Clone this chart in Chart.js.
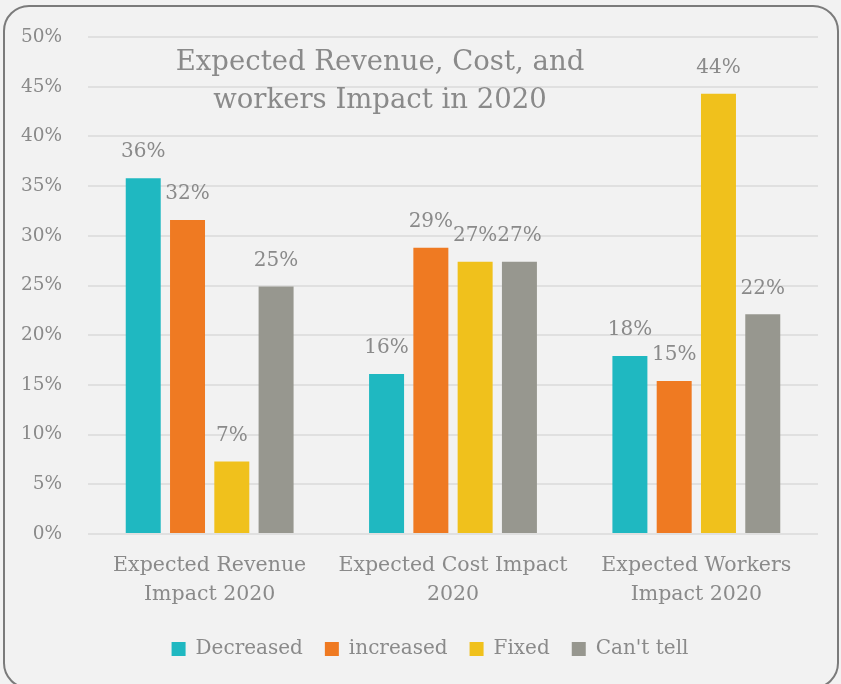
<!DOCTYPE html>
<html>
<head>
<meta charset="utf-8">
<script src="https://cdn.jsdelivr.net/npm/chart.js@4"></script>
<style>
  html, body { margin: 0; padding: 0; background: #f2f2f2; }
  #wrap { position: relative; width: 841px; height: 684px; overflow: hidden; }
  #card {
    position: absolute; left: 3px; top: 5px; width: 832px; height: 680px;
    border: 2px solid #7b7b7b; border-radius: 26px; background: #f2f2f2;
  }
  canvas { position: absolute; left: 0; top: 0; }
</style>
</head>
<body>
<div id="wrap">
  <div id="card"></div>
  <canvas id="myChart" width="841" height="684"></canvas>
</div>
<script>
const categories = [
    ["Expected Revenue", "Impact 2020"],
    ["Expected Cost Impact", "2020"],
    ["Expected Workers", "Impact 2020"],
];
const seriesNames = ["Decreased", "increased", "Fixed", "Can't tell"];
const decreased = [35.8, 16.1, 17.9];
const increased = [31.6, 28.8, 15.4];
const fixed = [7.3, 27.4, 44.3];
const cantTell = [24.9, 27.4, 22.1];
const titleLines = ["Expected Revenue, Cost, and", "workers Impact in 2020"];

const colors = ["#1fb8c1", "#ef7a22", "#f0c11c", "#97978f"];
const textColor = "#8a8a8a";
const fontFamily = "'DejaVu Serif', serif";

// value labels above each bar
const valueLabels = {
    id: "valueLabels",
    afterDatasetsDraw(chart) {
        const ctx = chart.ctx;
        ctx.save();
        ctx.font = "20px " + fontFamily;
        ctx.fillStyle = textColor;
        ctx.textAlign = "center";
        ctx.textBaseline = "middle";
        chart.data.datasets.forEach((ds, i) => {
            chart.getDatasetMeta(i).data.forEach((bar, j) => {
                ctx.fillText(Math.round(ds.data[j]) + "%", bar.x, bar.y - 26);
            });
        });
        ctx.restore();
    },
};

// title sits inside the plot area
const innerTitle = {
    id: "innerTitle",
    afterDraw(chart) {
        const ctx = chart.ctx;
        ctx.save();
        ctx.font = "27.5px " + fontFamily;
        ctx.fillStyle = textColor;
        ctx.textAlign = "center";
        ctx.textBaseline = "middle";
        ctx.fillText(titleLines[0], 380, 63);
        ctx.fillText(titleLines[1], 380, 101);
        ctx.restore();
    },
};

// nudge the legend a little to the right, like the original
const legendShift = {
    id: "legendShift",
    afterLayout(chart) {
        chart.legend.left += 16;
        chart.legend.right += 16;
    },
};

const ctx = document.getElementById("myChart").getContext("2d");
const myChart = new Chart(ctx, {
    type: "bar",
    data: {
        labels: categories,
        datasets: [decreased, increased, fixed, cantTell].map((d, i) => ({
            label: seriesNames[i],
            data: d,
            backgroundColor: colors[i],
            barPercentage: 0.79,
            categoryPercentage: 0.728,
        })),
    },
    options: {
        responsive: false,
        animation: false,
        layout: { padding: { left: 10, right: 23, top: 34, bottom: 15 } },
        scales: {
            x: {
                grid: { display: false },
                border: { display: false },
                ticks: {
                    color: textColor,
                    font: { family: fontFamily, size: 20.5, lineHeight: 1.42 },
                    padding: 9,
                    maxRotation: 0,
                },
                afterFit(scale) { scale.height = 83; },
            },
            y: {
                min: 0,
                max: 50,
                ticks: {
                    stepSize: 5,
                    color: textColor,
                    font: { family: fontFamily, size: 18.5 },
                    padding: 26,
                    callback: (v) => v + "%",
                },
                grid: { color: "#e0e0e0", lineWidth: 2, drawTicks: false },
                border: { display: false },
                afterFit(scale) { scale.width = 78; },
            },
        },
        plugins: {
            title: { display: false },
            tooltip: { enabled: false },
            legend: {
                position: "bottom",
                labels: {
                    color: textColor,
                    font: { family: fontFamily, size: 20 },
                    boxWidth: 14,
                    boxHeight: 14,
                    padding: 22,
                },
            },
        },
    },
    plugins: [valueLabels, innerTitle, legendShift],
});
</script>
</body>
</html>
